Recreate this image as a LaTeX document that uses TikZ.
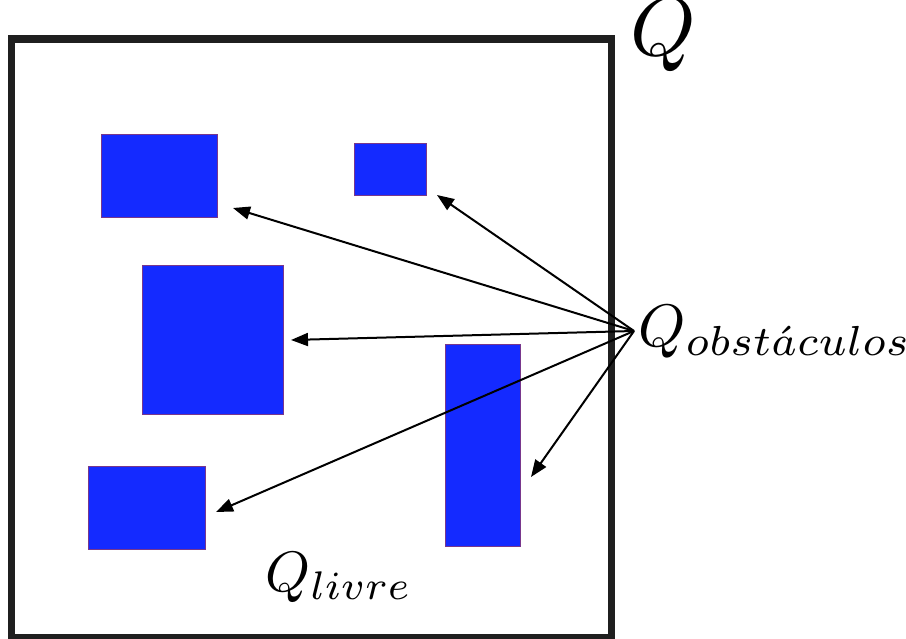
\documentclass[tikz,border=0pt]{standalone}
\usepackage{graphicx}
\usetikzlibrary{arrows.meta}
\definecolor{obstfill}{RGB}{20,42,255}
\definecolor{obstedge}{RGB}{120,55,140}
\tikzset{
  obst/.style={draw=obstedge, fill=obstfill, line width=0.8pt, inner sep=0pt, outer sep=0pt, anchor=north west},
  framebox/.style={draw=black!88, line width=7.5pt},
  ptr/.style={line width=2pt, -{Triangle[length=17pt,width=13pt]}},
  lbl/.style={anchor=base west, inner sep=0pt}
}
\begin{document}
\begin{tikzpicture}[x=1pt,y=-1pt]
\useasboundingbox (0,0) rectangle (906,639);
\fill[white] (0,0) rectangle (906,639);
% frame
\draw[framebox] (11.7,38.8) rectangle (611.5,637.5);
% obstacles
\node[obst, minimum width=116pt, minimum height=83pt] (r1) at (101,134) {};
\node[obst, minimum width=72pt, minimum height=52pt] (r2) at (354,143) {};
\node[obst, minimum width=141pt, minimum height=149pt] (r3) at (142,265) {};
\node[obst, minimum width=75pt, minimum height=202pt] (r4) at (445.5,344) {};
\node[obst, minimum width=117pt, minimum height=83pt] (r5) at (88,466) {};
% labels
\node[lbl] (q) at (630,56) {\scalebox{8.3}{$Q$}};
\node[lbl] (qo) at (638,347) {\scalebox{6}{$Q_{obst\acute{a}culos}$}};
\node[lbl] (ql) at (265,591) {\scalebox{5.7}{$Q_{livre}$}};
% arrows
\coordinate (src) at (634,331);
\coordinate (t1) at (233,208);
\coordinate (t2) at (437,195);
\coordinate (t3) at (291,340);
\coordinate (t4) at (531,477);
\coordinate (t5) at (216,512);
\foreach \t in {t1,t2,t3,t4,t5} \draw[ptr] (src) -- (\t);
\end{tikzpicture}
\end{document}
